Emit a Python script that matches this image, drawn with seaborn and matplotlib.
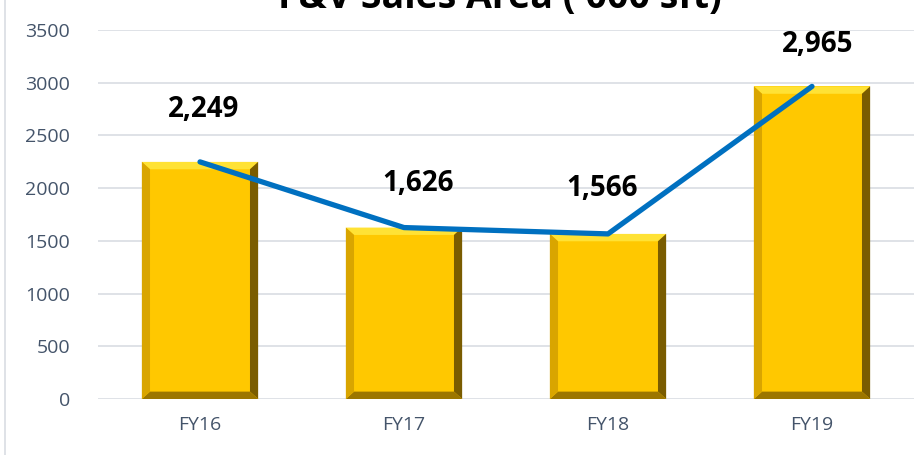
import numpy as np
import pandas as pd
import matplotlib.pyplot as plt
import matplotlib.patches as mpatches
import seaborn as sns

years = ['FY16', 'FY17', 'FY18', 'FY19']
area = [2249, 1626, 1566, 2965]
labels = ['2,249', '1,626', '1,566', '2,965']
yticks = [0, 500, 1000, 1500, 2000, 2500, 3000, 3500]

df = pd.DataFrame({'year': years, 'area': area})

sns.set_style('white')
plt.rcParams['font.family'] = ['Open Sans', 'DejaVu Sans']

fig = plt.figure(figsize=(9.14, 4.55), dpi=100)
ax = fig.add_axes([98/914, 1 - 399/455, 816/914, 369/455])

sns.barplot(data=df, x='year', y='area', color='#FFC800', width=0.57,
            saturation=1, ax=ax, zorder=2, edgecolor='none')

# bevel on each bar, built from the bar geometry
bx = 0.04
by = 70
for p in ax.patches[:]:
    x0, y0 = p.get_x(), p.get_y()
    w, h = p.get_width(), p.get_height()
    x1, y1 = x0 + w, y0 + h
    faces = [
        ([(x0, y1), (x1, y1), (x1 - bx, y1 - by), (x0 + bx, y1 - by)], '#FFE235'),
        ([(x1, y1), (x1, y0), (x1 - bx, y0 + by), (x1 - bx, y1 - by)], '#7A5C00'),
        ([(x0, y0), (x1, y0), (x1 - bx, y0 + by), (x0 + bx, y0 + by)], '#9C7600'),
        ([(x0, y0), (x0, y1), (x0 + bx, y1 - by), (x0 + bx, y0 + by)], '#D9A500'),
    ]
    for pts, c in faces:
        ax.add_patch(mpatches.Polygon(pts, closed=True, facecolor=c,
                                      edgecolor='none', zorder=2.5))

sns.lineplot(x=np.arange(len(years)), y=area, color='#0070C0', linewidth=3.8,
             ax=ax, zorder=3, solid_capstyle='round')

offsets = [27, 21, 22, 20]
dx = [0.02, 0.07, -0.03, 0.03]
for i, (v, t) in enumerate(zip(area, labels)):
    ax.annotate(t, (i + dx[i], v), xytext=(0, offsets[i]), textcoords='offset points',
                ha='center', va='bottom', fontsize=20, fontweight='bold', color='black',
                family=['Open Sans', 'DejaVu Sans'])

ax.set_ylim(0, 3500)
ax.set_xlim(-0.5, 3.5)
ax.set_yticks(yticks)
ax.set_yticklabels([str(t) for t in yticks])
ax.yaxis.grid(True, color='#D9DDE3', linewidth=1.2, zorder=0)
ax.set_axisbelow(True)
for s in ax.spines.values():
    s.set_visible(False)
ax.tick_params(axis='both', length=0, labelsize=14, colors='#44546A')
ax.tick_params(axis='y', pad=20)
ax.tick_params(axis='x', pad=12)
ax.set_xlabel('')
ax.set_ylabel('')

# title sits partly above the top edge, as in the source image
fig.text(500, 455 - 8, "F&V Sales Area ('000 sft)", transform=None, ha='center',
         va='baseline', fontsize=27, fontweight='bold', color='black')
fig.add_artist(plt.Line2D([4.5/914, 4.5/914], [0, 1], color='#D9DDE3', linewidth=1.2))

fig.savefig('out.png', dpi=100)
